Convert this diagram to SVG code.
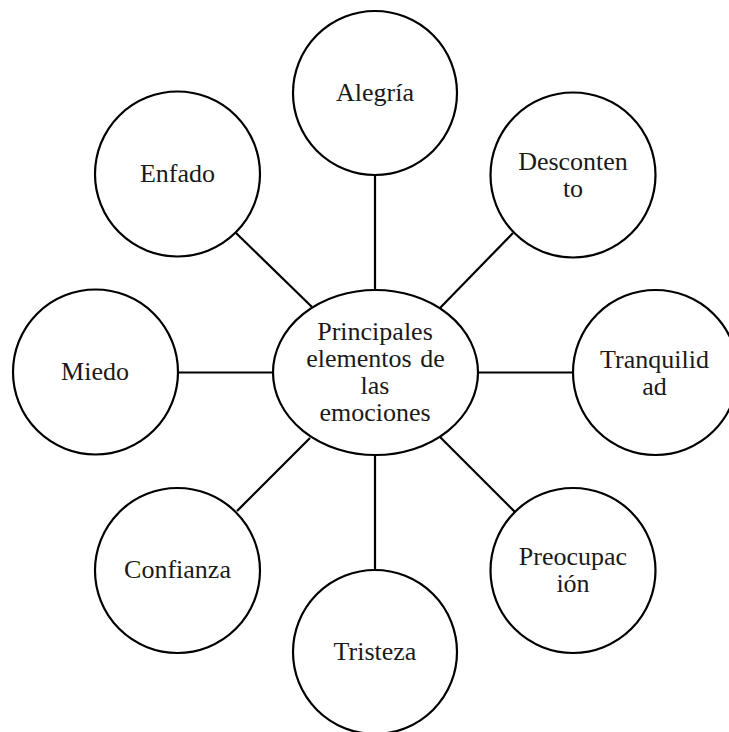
<svg xmlns="http://www.w3.org/2000/svg" width="729" height="732" viewBox="0 0 729 732">
  <style>
    .shape { fill: #ffffff; stroke: #000000; stroke-width: 2.2; }
    .link { stroke: #000000; stroke-width: 2.2; fill: none; }
    .label { font-family: "Liberation Serif", "Times New Roman", serif; font-size: 26px; fill: #1a1a1a; text-anchor: middle; }
  </style>
  <rect width="729" height="732" fill="#ffffff"/>

  <!-- spokes from the central ellipse to each emotion -->
  <g id="connectors">
    <line class="link" x1="375" y1="175" x2="375" y2="290"/>
    <line class="link" x1="513" y1="233" x2="440" y2="308"/>
    <line class="link" x1="478" y1="372.5" x2="573" y2="372.5"/>
    <line class="link" x1="440" y1="437" x2="515" y2="512"/>
    <line class="link" x1="375" y1="455" x2="375" y2="570"/>
    <line class="link" x1="237" y1="511" x2="310" y2="438"/>
    <line class="link" x1="178" y1="372.5" x2="273" y2="372.5"/>
    <line class="link" x1="236" y1="233" x2="312" y2="307"/>
  </g>

  <g id="center">
    <ellipse class="shape" cx="375.5" cy="372.5" rx="102.5" ry="82.5"/>
    <text class="label" x="375" y="340">Principales</text>
    <text class="label" x="375.5" y="367" word-spacing="2">elementos de</text>
    <text class="label" x="375" y="394">las</text>
    <text class="label" x="375" y="421">emociones</text>
  </g>

  <g id="alegria">
    <circle class="shape" cx="375" cy="93" r="82"/>
    <text class="label" x="375" y="101">Alegría</text>
  </g>

  <g id="descontento">
    <circle class="shape" cx="573" cy="175" r="82.5"/>
    <text class="label" x="573" y="170">Desconten</text>
    <text class="label" x="573" y="197">to</text>
  </g>

  <g id="tranquilidad">
    <circle class="shape" cx="655.5" cy="372.5" r="82.5"/>
    <text class="label" x="654.5" y="368">Tranquilid</text>
    <text class="label" x="654.5" y="395">ad</text>
  </g>

  <g id="preocupacion">
    <circle class="shape" cx="573" cy="570.5" r="82.5"/>
    <text class="label" x="573" y="565">Preocupac</text>
    <text class="label" x="573" y="592">ión</text>
  </g>

  <g id="tristeza">
    <circle class="shape" cx="375" cy="652" r="82"/>
    <text class="label" x="375" y="660">Tristeza</text>
  </g>

  <g id="confianza">
    <circle class="shape" cx="177.5" cy="570.5" r="82.5"/>
    <text class="label" x="177.5" y="578">Confianza</text>
  </g>

  <g id="miedo">
    <circle class="shape" cx="95.5" cy="372" r="82.5"/>
    <text class="label" x="95" y="380">Miedo</text>
  </g>

  <g id="enfado">
    <circle class="shape" cx="177.5" cy="174" r="82.5"/>
    <text class="label" x="177.5" y="182">Enfado</text>
  </g>
</svg>
